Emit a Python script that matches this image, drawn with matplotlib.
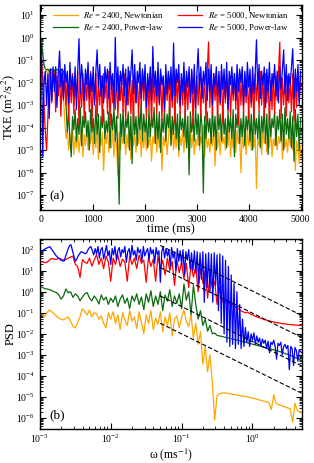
import numpy as np
import matplotlib
matplotlib.use("Agg")
import matplotlib.pyplot as plt

plt.rcParams['font.family'] = ['Liberation Serif', 'DejaVu Serif']
plt.rcParams['mathtext.fontset'] = 'stix'

# ---- panel (a): turbulent kinetic energy, log10 values ----
time_ms = np.arange(0, 5001, 25)

tke_2400_newt = [
    -1.2, -1.6, -2.0, -1.6, -1.5, -1.55, -1.5, -1.6, -1.55, -1.5,
    -1.55, -1.5, -1.6, -1.55, -1.5, -1.6, -2.2, -2.6, -3.7, -4.5,
    -4.1, -5.0, -4.3, -4.8, -4.0, -5.2, -4.4, -4.9, -4.2, -5.1,
    -4.5, -4.0, -5.3, -4.3, -4.8, -3.9, -5.0, -4.4, -4.7, -4.1,
    -5.2, -4.3, -4.9, -4.0, -5.4, -4.5, -4.8, -4.2, -5.9, -4.4,
    -4.7, -4.1, -5.1, -4.3, -4.9, -4.0, -5.3, -4.4, -4.8, -6.1,
    -4.2, -5.0, -4.4, -4.7, -4.1, -5.2, -4.3, -4.9, -4.0, -5.4,
    -4.5, -4.8, -4.2, -5.1, -4.4, -4.7, -3.9, -5.3, -4.3, -4.9,
    -4.1, -5.0, -4.5, -4.8, -4.2, -5.5, -4.4, -4.7, -4.0, -5.1,
    -4.3, -4.9, -4.1, -5.9, -4.4, -4.8, -4.2, -5.2, -4.5, -3.6,
    -4.7, -4.0, -5.0, -4.3, -4.9, -3.8, -5.3, -4.4, -4.8, -4.1,
    -5.1, -4.2, -4.7, -4.4, -5.4, -4.0, -4.9, -4.3, -5.2, -4.5,
    -4.8, -4.1, -5.0, -4.4, -4.7, -3.9, -5.3, -4.2, -4.9, -4.5,
    -5.1, -4.3, -4.8, -4.0, -5.7, -4.4, -4.9, -4.2, -5.2, -4.1,
    -4.7, -4.4, -5.0, -4.2, -4.8, -3.9, -5.3, -4.3, -4.9, -4.5,
    -5.1, -4.1, -4.7, -4.4, -6.0, -4.2, -4.9, -4.3, -5.2, -4.0,
    -4.8, -4.4, -5.0, -4.1, -4.9, -4.3, -6.7, -4.5, -4.8, -4.2,
    -5.2, -4.0, -4.7, -4.4, -5.1, -4.3, -4.9, -4.1, -5.3, -4.5,
    -4.8, -4.2, -5.0, -4.4, -4.7, -4.0, -5.4, -4.3, -4.9, -4.5,
    -5.1, -4.2, -4.8, -4.4, -5.0, -4.3, -5.9, -4.6, -4.9, -5.6,
    -4.8,
]

tke_2400_pl = [
    -0.15, -0.7, -1.2, -1.4, -1.45, -1.4, -1.5, -1.4, -1.45, -1.4,
    -1.5, -1.4, -1.45, -1.4, -1.5, -1.45, -1.4, -1.5, -1.9, -3.0,
    -4.2, -3.3, -4.5, -5.3, -3.5, -4.1, -3.2, -4.6, -3.6, -4.3,
    -3.1, -4.8, -3.5, -4.0, -3.3, -4.4, -3.7, -5.0, -3.2, -4.2,
    -3.6, -4.7, -3.0, -4.3, -3.4, -5.1, -3.5, -4.0, -3.2, -4.5,
    -3.7, -4.2, -3.3, -4.9, -3.4, -4.1, -3.1, -4.6, -3.5, -5.2,
    -7.4, -3.4, -4.4, -3.2, -4.7, -3.6, -4.0, -3.3, -5.0, -3.5,
    -5.6, -3.1, -4.3, -3.5, -4.8, -3.3, -4.1, -2.9, -4.6, -3.4,
    -4.2, -3.6, -4.9, -3.2, -4.4, -3.5, -4.0, -3.1, -4.7, -3.4,
    -4.5, -3.3, -5.1, -3.6, -4.2, -3.2, -4.6, -3.4, -4.0, -2.9,
    -4.8, -3.5, -4.3, -3.1, -4.5, -3.4, -5.0, -3.3, -4.1, -3.6,
    -4.4, -3.2, -4.9, -3.5, -6.1, -3.3, -4.2, -3.6, -4.6, -3.1,
    -4.3, -3.4, -4.8, -3.2, -4.0, -6.9, -3.5, -4.5, -3.3, -4.2,
    -3.6, -4.7, -3.1, -4.4, -3.5, -5.0, -3.2, -4.1, -3.4, -4.6,
    -3.0, -4.3, -3.6, -4.9, -3.3, -4.2, -3.5, -4.5, -3.2, -5.3,
    -3.4, -4.0, -3.1, -4.7, -3.6, -4.4, -3.3, -4.8, -3.5, -4.1,
    -3.2, -4.6, -3.4, -5.0, -3.0, -4.3, -3.6, -4.5, -3.3, -4.9,
    -3.5, -4.2, -3.1, -4.7, -3.4, -5.2, -3.2, -4.4, -3.6, -4.0,
    -3.3, -4.8, -3.5, -4.1, -3.2, -4.6, -3.4, -5.0, -3.1, -4.3,
    -3.6, -4.5, -3.3, -4.9, -3.5, -5.5, -3.2, -4.4, -3.4, -5.0,
    -3.6,
]

tke_5000_newt = [
    -1.0, -1.8, -3.0, -4.2, -5.0, -3.5, -1.6, -1.4, -2.9, -1.5,
    -1.6, -3.3, -1.7, -2.6, -1.5, -3.5, -1.8, -2.8, -1.6, -3.0,
    -1.7, -3.7, -1.9, -2.9, -1.6, -3.4, -1.8, -2.7, -1.5, -3.9,
    -1.9, -3.1, -1.6, -3.6, -1.8, -2.8, -1.7, -3.3, -1.5, -4.0,
    -1.8, -2.9, -1.6, -3.5, -1.9, -3.0, -1.7, -3.8, -1.6, -2.7,
    -1.8, -3.4, -1.5, -3.9, -1.7, -2.9, -1.9, -3.2, -1.6, -3.6,
    -1.7, -2.8, -1.9, -3.3, -1.6, -3.7, -1.8, -3.0, -1.5, -3.4,
    -1.9, -3.8, -1.6, -2.9, -1.8, -3.5, -1.7, -3.1, -1.5, -2.8,
    -1.6, -3.6, -1.8, -3.2, -1.7, -3.9, -1.5, -2.9, -1.9, -3.4,
    -1.7, -3.0, -1.6, -3.7, -1.8, -3.3, -1.9, -2.8, -1.6, -3.5,
    -1.8, -3.1, -1.5, -3.8, -1.7, -2.9, -1.6, -3.4, -1.9, -3.0,
    -1.6, -3.6, -1.8, -3.2, -1.7, -2.8, -1.5, -3.9, -1.9, -3.3,
    -1.7, -3.0, -1.6, -3.5, -1.8, -2.9, -1.7, -3.7, -1.5, -0.2,
    -3.1, -1.8, -3.4, -1.6, -2.8, -1.9, -3.6, -1.7, -3.0, -1.5,
    -3.8, -1.7, -2.9, -1.6, -3.3, -1.8, -3.5, -1.9, -2.8, -1.6,
    -3.2, -1.8, -3.9, -1.5, -3.0, -1.7, -3.4, -1.6, -2.9, -1.8,
    -3.6, -1.7, -3.1, -1.9, -3.7, -1.6, -2.8, -1.8, -3.3, -1.5,
    -3.0, -1.7, -3.5, -1.6, -2.9, -1.8, -3.8, -1.9, -3.2, -1.6,
    -3.4, -1.7, -2.8, -1.5, -0.2, -3.6, -1.8, -3.0, -1.6, -3.5,
    -1.7, -2.9, -1.9, -3.3, -1.6, -3.7, -1.8, -3.1, -1.5, -2.8,
    -1.7,
]

tke_5000_pl = [
    -0.3, -5.3, -2.0, -1.5, -3.0, -1.6, -3.6, -1.4, -2.8, -1.3,
    -2.4, -1.3, -3.1, -1.6, -0.6, -2.2, -1.4, -2.7, -1.2, -2.0,
    -1.5, -2.9, -1.1, -2.3, -1.7, -2.6, -1.3, -3.2, -1.5, -0.05,
    -2.5, -1.2, -1.9, -2.8, -1.4, -2.1, -1.1, -2.7, -1.6, -2.4,
    -1.3, -3.0, -1.5, -0.55, -2.2, -1.2, -2.6, -1.7, -2.9, -1.3,
    -2.0, -1.4, -2.7, -1.1, -2.3, -1.6, -3.1, 0.0, -2.4, -1.3,
    -2.8, -1.5, -2.1, -1.2, -2.6, -1.4, -3.0, -1.3, -2.2, -1.6,
    -0.55, -2.5, -1.2, -2.9, -1.5, -2.0, -1.1, -2.7, -1.4, -2.3,
    -1.2, -3.1, -1.6, -2.4, -1.3, -2.8, -0.4, -2.2, -1.5, -2.6,
    -1.1, -2.9, -1.4, -2.1, -1.7, -3.2, -1.2, -2.5, -1.5, -2.3,
    -1.3, -2.8, -0.25, -2.6, -1.4, -2.0, -1.2, -3.0, -1.6, -2.4,
    -1.1, -2.7, -1.5, -2.2, -1.3, -2.9, -1.4, -2.5, -1.2, -3.1,
    -1.6, -0.5, -2.3, -1.3, -2.7, -1.5, -2.1, -1.1, -2.8, -1.4,
    -2.4, -1.2, -3.0, -1.6, -2.2, -1.3, -2.6, -1.5, -2.9, -1.2,
    -2.3, -1.4, -2.7, -1.1, -3.2, -1.5, -2.1, -1.3, -2.5, -1.6,
    -2.8, -1.2, -2.4, -1.4, -2.0, -1.3, -3.0, -1.5, -2.6, -1.1,
    -2.2, -1.4, -2.9, -1.3, -2.5, -1.6, -0.1, -2.3, -1.2, -2.7,
    -1.5, -2.1, -1.3, -3.1, -1.4, -2.4, -1.1, -2.8, -1.6, -2.2,
    -1.2, -2.6, -1.5, -2.9, -1.3, -2.3, -1.4, -0.55, -2.5, -1.2,
    -2.8, -1.6, -2.1, -1.3, -0.5, -2.7, -1.4, -2.4, -1.2, -3.0,
    -1.5,
]

# ---- panel (b): power spectral density, log10 values ----
omega = np.logspace(-3, 0.7, 112)        # grid for three curves
omega_fine = np.logspace(-3, 0.7, 186)   # finer grid for the Re=5000 power-law curve

psd_2400_newt = [
    -1.03, -1.1, -1.18, -1.0, -0.87, -0.95, -1.05, -1.15, -1.26, -1.3,
    -1.34, -1.25, -1.2, -1.4, -1.65, -1.72, -1.45, -1.18, -0.8, -0.95,
    -1.1, -0.87, -1.2, -1.0, -1.05, -1.3, -1.15, -1.5, -1.72, -1.0,
    -1.3, -0.95, -1.5, -1.1, -1.8, -1.0, -1.35, -1.6, -0.9, -1.4,
    -1.2, -1.75, -0.95, -1.45, -2.0, -1.1, -1.5, -0.9, -1.8, -1.25,
    -1.55, -0.95, -1.9, -1.2, -1.6, -1.0, -2.1, -1.3, -1.15, -1.7,
    -1.2, -0.87, -1.4, -1.65, -1.1, -2.2, -1.5, -2.5, -1.9, -3.44,
    -2.6, -3.8, -3.0, -4.3, -6.1, -4.95, -4.85, -4.82, -4.8, -4.82,
    -4.84, -4.86, -4.88, -4.9, -4.92, -4.94, -4.96, -4.98, -5.0, -5.02,
    -5.05, -5.08, -5.11, -5.14, -5.17, -5.2, -5.23, -5.27, -5.6, -4.9,
    -5.3, -5.36, -5.4, -5.44, -5.48, -5.52, -5.56, -6.2, -5.3, -5.65,
    -5.7, -5.75,
]

psd_2400_pl = [
    0.29, 0.22, 0.15, 0.13, 0.1, 0.06, 0.0, -0.04, -0.15, -0.35,
    -0.2, 0.13, -0.05, 0.0, -0.27, -0.1, -0.2, -0.43, -0.25, -0.1,
    -0.04, -0.3, -0.43, -0.2, -0.35, -0.58, -0.15, -0.4, -0.25, -0.6,
    -0.3, -0.5, -0.2, -0.7, -0.35, -0.15, -0.55, -0.3, -0.8, -0.2,
    -0.45, -0.1, -0.6, -0.25, -0.85, -0.1, -0.5, 0.05, -0.7, -0.2,
    -0.6, 0.0, -0.9, -0.15, -0.45, 0.1, -0.7, -0.2, -0.55, -0.1,
    -0.8, 0.37, -0.4, 0.0, -1.1, 0.3, -0.6, -1.3, -0.9, -1.6,
    -1.3, -1.87, -1.6, -2.0, -1.96, -2.07, -2.1, -2.12, -2.15, -2.18,
    -2.2, -2.23, -2.26, -2.28, -2.31, -2.34, -2.37, -2.4, -2.43, -2.46,
    -2.49, -2.52, -2.55, -2.58, -2.61, -2.64, -2.67, -2.7, -2.73, -2.76,
    -2.79, -2.82, -2.86, -2.9, -2.94, -2.98, -3.02, -3.07, -3.12, -3.17,
    -3.22, -3.27,
]

psd_5000_newt = [
    1.45, 1.42, 1.38, 1.4, 1.5, 1.58, 1.55, 1.53, 1.6, 1.55,
    1.5, 1.53, 1.6, 1.65, 1.69, 1.3, 1.2, 0.68, 1.53, 1.4,
    1.35, 1.6, 1.22, 1.5, 1.77, 1.3, 1.6, 1.1, 1.7, 1.4,
    0.5, 1.6, 1.3, 1.75, 1.2, 1.55, 1.4, 0.5, 1.7, 1.3,
    1.6, 1.1, 1.75, 1.35, 1.5, 0.45, 1.65, 1.2, 1.55, 0.5,
    1.7, 1.1, 1.5, 0.8, 1.6, 1.0, 1.45, 0.3, 1.5, 0.9,
    1.4, 0.6, 1.35, 0.2, 1.3, 0.7, 1.2, 0.0, 1.1, 0.4,
    1.0, -0.3, 0.8, 0.2, 0.5, -0.6, 0.2, -0.5, -0.3, -0.55,
    -0.5, -0.65, -0.6, -0.75, -0.8, -0.9, -0.95, -1.0, -0.97, -1.05,
    -1.1, -1.15, -1.2, -1.24, -1.28, -1.32, -1.35, -1.38, -1.41, -1.44,
    -1.46, -1.48, -1.5, -1.52, -1.53, -1.55, -1.56, -1.57, -1.58, -1.59,
    -1.6, -1.6,
]

psd_5000_pl = [
    1.85, 1.9, 1.95, 2.0, 2.05, 2.08, 2.11, 2.14, 2.05, 1.95,
    1.85, 1.75, 1.67, 1.6, 1.55, 1.5, 1.47, 1.45, 1.65, 1.85,
    2.05, 2.2, 2.23, 1.95, 1.7, 1.44, 1.55, 1.7, 1.8, 1.9,
    1.88, 1.85, 1.8, 1.85, 2.0, 2.1, 2.15, 1.95, 1.75, 2.05,
    1.8, 2.15, 1.6, 2.0, 2.1, 1.55, 1.9, 2.2, 1.7, 1.95,
    1.3, 2.05, 1.75, 2.15, 1.5, 1.95, 2.1, 1.65, 2.0, 1.85,
    2.15, 1.4, 1.9, 2.05, 1.6, 2.2, 1.75, 1.95, 1.5, 2.1,
    1.85, 2.0, 1.45, 2.15, 1.7, 1.9, 2.05, 1.55, 2.1, 1.8,
    2.0, 1.35, 2.1, 1.75, 1.95, 0.45, 1.9, 2.15, 1.6, 2.05,
    1.7, 2.0, 1.2, 2.1, 1.6, 1.9, 1.0, 2.05, 1.45, 1.95,
    1.3, 2.0, 0.8, 1.9, 1.5, 2.0, 1.1, 1.85, 1.0, 1.95,
    0.9, 1.9, 0.4, 1.85, 0.6, 1.9, -0.5, 1.8, 0.2, 1.85,
    0.0, 1.8, -0.5, 1.85, 0.3, 1.75, -0.9, 1.8, -1.5, 1.7,
    -2.0, 1.5, -2.4, 1.2, -2.6, 0.8, -2.5, 0.4, -2.7, 0.0,
    -2.5, -0.6, -2.7, -1.3, -2.6, -1.7, -2.4, -1.9, -2.6, -2.0,
    -2.3, -1.95, -2.5, -2.1, -2.4, -2.2, -2.6, -2.25, -2.45, -2.3,
    -2.7, -2.35, -2.9, -2.4, -2.5, -2.3, -2.6, -3.2, -2.45, -2.55,
    -2.4, -3.0, -2.6, -2.5, -2.7, -2.55, -3.7, -2.6, -2.7, -3.5,
    -2.65, -2.8, -3.3, -2.75, -2.85, -2.9,
]

# dashed -5/3 guide lines: omega range and log10 PSD at both ends
guide_omega = [0.05, 5.0]
guide_levels = [[2.2, -1.13], [1.15, -2.18], [-0.2, -3.53], [-1.5, -4.83]]

labels = [r"$\mathit{Re}$ = 2400, Newtonian", r"$\mathit{Re}$ = 2400, Power-law",
          r"$\mathit{Re}$ = 5000, Newtonian", r"$\mathit{Re}$ = 5000, Power-law"]
colors = ['#FFA500', '#0B6B0B', '#FF0000', '#0000FF']


def style_axes(ax):
    ax.tick_params(which='both', direction='in', top=True, right=True, labelsize=7)
    ax.tick_params(which='major', length=4, width=0.8)
    ax.tick_params(which='minor', length=2, width=0.6)
    for s in ax.spines.values():
        s.set_linewidth(1.0)


fig = plt.figure(figsize=(3.14, 4.63), dpi=100)
ax1 = fig.add_axes([0.127, 0.546, 0.835, 0.443])
ax2 = fig.add_axes([0.127, 0.073, 0.835, 0.411])

tke_series = [tke_2400_newt, tke_2400_pl, tke_5000_newt, tke_5000_pl]
for vals, c, lab in zip(tke_series, colors, labels):
    ax1.plot(time_ms, 10 ** np.array(vals), color=c, lw=0.9, label=lab)

ax1.set_yscale('log')
ax1.set_xlim(-30, 5030)
ax1.set_ylim(10 ** -7.67, 10 ** 1.44)
ax1.set_xticks([0, 1000, 2000, 3000, 4000, 5000])
ax1.set_yticks([10.0 ** e for e in range(-7, 2)])
ax1.set_xlabel("time (ms)", fontsize=9)
ax1.set_ylabel(r"TKE (m$^2$/s$^2$)", fontsize=9)
ax1.xaxis.set_label_coords(0.5, -0.066)
ax1.yaxis.set_label_coords(-0.088, 0.5)
ax1.text(0.035, 0.055, "(a)", transform=ax1.transAxes, fontsize=9.5)
ax1.legend(loc='upper center', bbox_to_anchor=(0.5, 1.01), ncol=2, frameon=False,
           fontsize=6.3, handlelength=2.8, columnspacing=1.6, handletextpad=0.6,
           labelspacing=0.2)
style_axes(ax1)

for vals, c in zip([psd_2400_newt, psd_2400_pl, psd_5000_newt], colors[:3]):
    ax2.plot(omega, 10 ** np.array(vals), color=c, lw=0.9)
ax2.plot(omega_fine, 10 ** np.array(psd_5000_pl), color=colors[3], lw=0.9)
for lv in guide_levels:
    ax2.plot(guide_omega, 10 ** np.array(lv), color='black', lw=0.8,
             linestyle=(0, (4, 2)))

ax2.set_xscale('log')
ax2.set_yscale('log')
ax2.set_xlim(1e-3, 10 ** 0.7)
ax2.set_ylim(10 ** -6.53, 10 ** 2.51)
ax2.set_yticks([10.0 ** e for e in range(-6, 3)])
ax2.set_xlabel(r"ω (ms$^{-1}$)", fontsize=8.5)
ax2.set_ylabel("PSD", fontsize=9)
style_axes(ax2)
ax2.tick_params(axis='x', which='both', pad=2.5)
ax2.xaxis.set_label_coords(0.5, -0.088)
ax2.yaxis.set_label_coords(-0.088, 0.5)
ax2.text(0.035, 0.06, "(b)", transform=ax2.transAxes, fontsize=9.5)

fig.savefig("out.png", dpi=100)
